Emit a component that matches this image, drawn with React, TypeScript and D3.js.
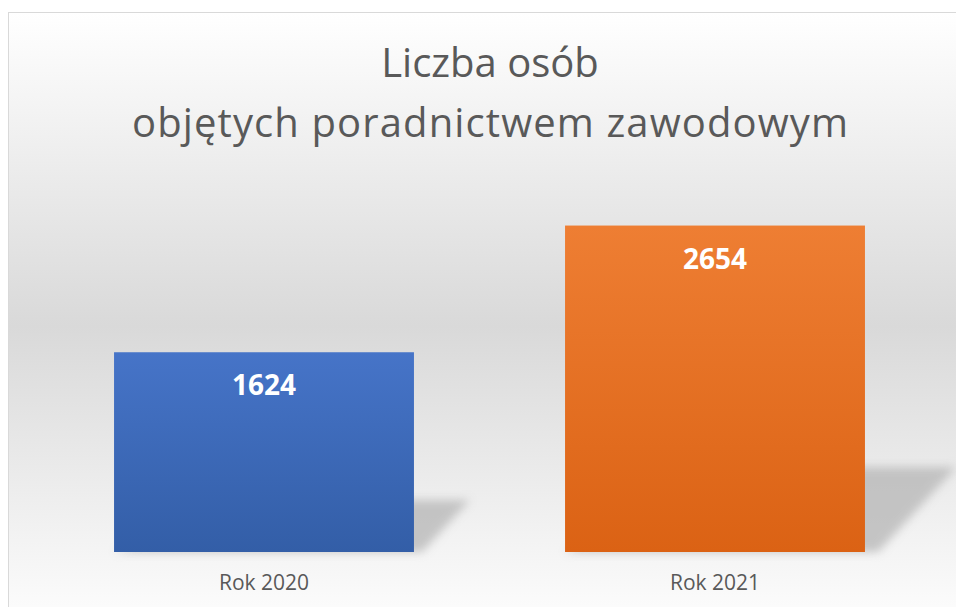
import React from "react";
import * as d3 from "d3";

const categories = ["Rok 2020", "Rok 2021"];
const values = [1624, 2654];
const titleLines = ["Liczba osób", "objętych poradnictwem zawodowym"];
const barTop = ["#4674c8", "#ee7e33"];
const barBottom = ["#335ea7", "#db6214"];

const W = 956;
const H = 607;

export default function App() {
  const baseline = 552;
  const x = d3
    .scaleBand<string>()
    .domain(categories)
    .range([38.5, 940.5])
    .paddingInner(0.335)
    .paddingOuter(0.1675);
  const y = d3.scaleLinear().domain([0, 3000]).range([baseline, baseline - 3000 / 8.13]);

  return (
    <svg
      width={W}
      height={H}
      style={{ position: "fixed", left: 0, top: 0, fontFamily: "'Open Sans', sans-serif" }}
    >
      <defs>
        <linearGradient id="bg" x1="0" y1="0" x2="0" y2="1">
          <stop offset="0" stopColor="#ffffff" />
          <stop offset="0.5" stopColor="#d9d9d9" />
          <stop offset="1" stopColor="#ffffff" />
        </linearGradient>
        {categories.map((c, i) => (
          <linearGradient key={c} id={`bar${i}`} x1="0" y1="0" x2="0" y2="1">
            <stop offset="0" stopColor={barTop[i]} />
            <stop offset="1" stopColor={barBottom[i]} />
          </linearGradient>
        ))}
        <filter id="blur" x="-20%" y="-50%" width="140%" height="200%">
          <feGaussianBlur stdDeviation="5" />
        </filter>
        <clipPath id="clip">
          <rect x={9} y={13} width={W} height={H} />
        </clipPath>
      </defs>
      <rect x={0} y={0} width={W} height={H} fill="#ffffff" />
      <rect x={8.5} y={12.5} width={W + 20} height={H + 20} fill="url(#bg)" stroke="#d9d9d9" strokeWidth={1} />
      <g clipPath="url(#clip)">
        {titleLines.map((t, i) => (
          <text
            key={t}
            x={490}
            y={77 + i * 60}
            textAnchor="middle"
            fontSize={40}
            fill="#595959"
            {...(i === 1 ? { textLength: 716, lengthAdjust: "spacing" } : {})}
          >
            {t}
          </text>
        ))}
        {categories.map((c, i) => {
          const bx = x(c)!;
          const bw = x.bandwidth();
          const top = y(values[i]);
          const h = baseline - top;
          const sh = h * 0.26;
          const pts = [
            [bx + bw * 0.5, baseline - sh],
            [bx + bw + h * 0.28, baseline - sh],
            [bx + bw + h * 0.04, baseline],
            [bx, baseline],
          ];
          return (
            <g key={c}>
              <polygon
                points={pts.map((p) => p.join(",")).join(" ")}
                fill="#b5b5b5"
                opacity={0.75}
                filter="url(#blur)"
              />
              <rect x={bx} y={top} width={bw} height={h} fill={`url(#bar${i})`} />
              <text
                x={bx + bw / 2}
                y={top + 43}
                textAnchor="middle"
                fontSize={28}
                fontWeight={700}
                fill="#ffffff"
              >
                {values[i]}
              </text>
              <text
                x={bx + bw / 2}
                y={590}
                textAnchor="middle"
                fontSize={21}
                fill="#595959"
              >
                {c}
              </text>
            </g>
          );
        })}
      </g>
    </svg>
  );
}
